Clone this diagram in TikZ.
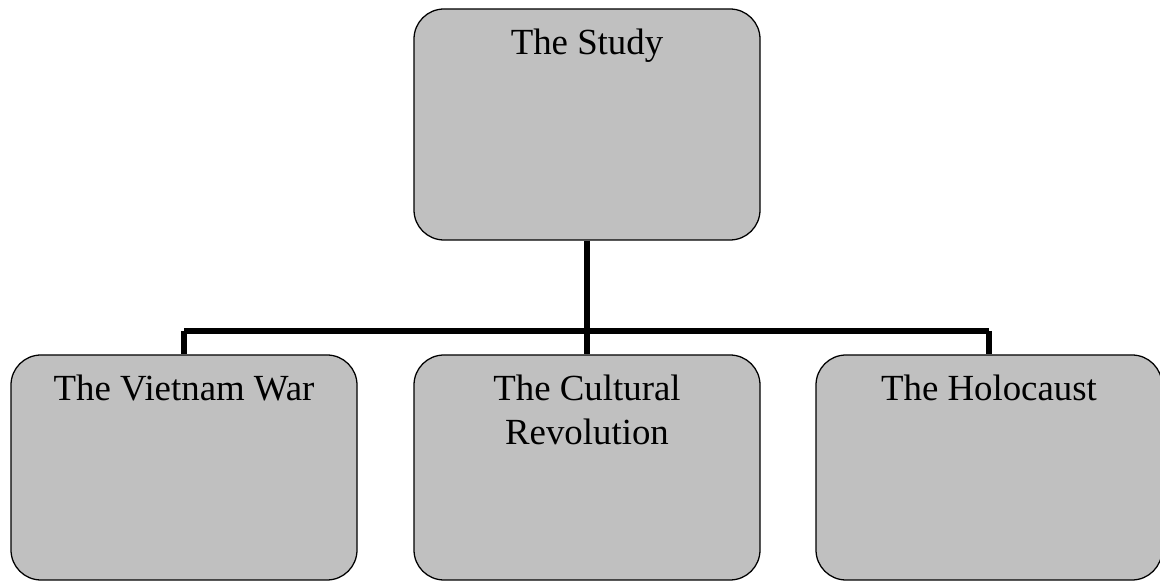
\documentclass[tikz,border=0pt]{standalone}
\usepackage{fontspec}
\setmainfont{Liberation Serif}
\usepackage{xcolor}
\definecolor{BoxGray}{HTML}{C0C0C0}
\usepackage{tikz}
\usetikzlibrary{positioning, calc}
\tikzset{
  % Box styles
  topicbox/.style={rectangle, rounded corners=0.75cm, draw=black, fill=BoxGray, line width=0.9pt, minimum width=8.65cm, minimum height=5.7cm, inner sep=0pt},
  subbox/.style={topicbox, minimum height=5.625cm},
  % Text style
  boxtext/.style={anchor=base, align=center, inner sep=0pt, font=\fontsize{26.2}{31.3}\selectfont},
  % Connector styles
  treeline/.style={line width=3.9pt, black}
}
\begin{document}
\begin{tikzpicture}
  \useasboundingbox (0,0) rectangle (29,14.55);

  % Top box
  \node[topicbox, minimum height=5.775cm] (study) at (14.675,11.4375) {};
  \node[boxtext] (studytext) at ($(study.north)+(0,-1.15)$) {The Study};

  % Bottom boxes
  \node[subbox] (vietnam) at (4.6,2.8625) {};
  \node[subbox] (cultural) at (14.675,2.8625) {};
  \node[subbox] (holocaust) at (24.725,2.8625) {};
  \node[boxtext] (vietnamtext) at ($(vietnam.north)+(0,-1.15)$) {The Vietnam War};
  \node[boxtext] (culturaltext) at ($(cultural.north)+(0,-2.25)$) {The Cultural\\Revolution};
  \node[boxtext] (holocausttext) at ($(holocaust.north)+(0,-1.15)$) {The Holocaust};

  % Connectors
  \coordinate (fork) at (14.675,6.275);
  \draw[treeline] (study.south) -- (fork);
  \draw[treeline] (vietnam.north |- fork) -- (holocaust.north |- fork);
  \draw[treeline] (vietnam.north |- fork) -- (vietnam.north);
  \draw[treeline] (fork) -- (cultural.north);
  \draw[treeline] (holocaust.north |- fork) -- (holocaust.north);
\end{tikzpicture}
\end{document}
